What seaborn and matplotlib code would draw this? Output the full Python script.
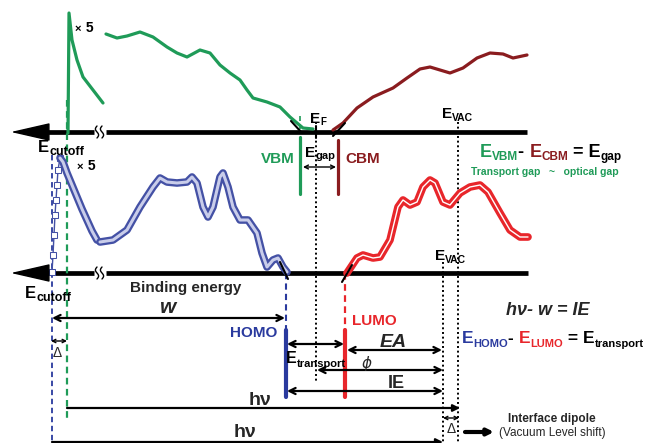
import numpy as np
import seaborn as sns
import matplotlib.pyplot as plt

# colours
GREEN = '#1f9b58'
DARKRED = '#8a1c1f'
BLUE = '#4451a5'
NAVY = '#2a3a9e'
RED = '#e8262b'

# upper spectrum (pixel coordinates of the schematic, y downwards)
green_spike_x = [68, 69, 72, 77, 83, 93, 103]
green_spike_y = [133, 13, 40, 60, 77, 90, 103]
green_x = [106, 117, 127, 140, 153, 167, 177, 187, 200, 210, 220, 230, 240, 247, 253, 267, 280, 290, 297, 303, 313]
green_y = [34, 38, 36, 32, 37, 47, 53, 57, 50, 53, 65, 73, 80, 90, 98, 102, 107, 117, 123, 128, 129]
darkred_x = [333, 343, 357, 373, 393, 407, 420, 430, 440, 450, 463, 477, 490, 503, 513, 527]
darkred_y = [130, 123, 108, 97, 88, 78, 69, 67, 70, 73, 68, 58, 53, 54, 58, 55]

# lower spectrum
blue_rise_x = [52, 53, 54, 55, 56, 57, 58, 60]
blue_rise_y = [272, 255, 235, 215, 200, 185, 170, 158]
blue_decay_x = [60, 63, 67, 72, 77, 82, 87, 92, 97]
blue_decay_y = [158, 162, 173, 185, 197, 209, 220, 231, 240]
blue_x = [100, 113, 127, 140, 153, 160, 167, 177, 187, 192, 197, 203, 208, 213, 220, 223, 228, 233,
          240, 248, 257, 262, 267, 273, 278, 283, 287]
blue_y = [242, 240, 230, 207, 187, 178, 182, 183, 182, 177, 183, 207, 217, 207, 177, 173, 187, 207,
          220, 220, 233, 253, 267, 260, 258, 267, 272]
red_x = [347, 357, 363, 373, 380, 390, 398, 403, 410, 417, 423, 430, 435, 443, 450, 460, 470, 480,
         488, 500, 510, 520, 528]
red_y = [273, 258, 255, 258, 257, 240, 207, 200, 205, 202, 187, 180, 183, 202, 205, 193, 187, 185,
         192, 213, 230, 237, 237]

sns.set_theme(style='white')
plt.rcParams['font.family'] = ['Liberation Sans', 'DejaVu Sans']

fig = plt.figure(figsize=(6.5, 4.43), dpi=100)
ax = fig.add_axes([0, 0, 1, 1])
ax.set_xlim(0, 650)
ax.set_ylim(443, 0)
ax.axis('off')
renderer = fig.canvas.get_renderer()


def chain(x, y, parts, weight='bold'):
    """Write coloured text pieces one after another on a common baseline."""
    for s, size, color, dy, style in parts:
        t = ax.text(x, y + dy, s, fontsize=size, color=color, fontweight=weight,
                    fontstyle=style, va='baseline', ha='left')
        x += t.get_window_extent(renderer=renderer).width


def energy_axis(y, x_end):
    ax.plot([30, 94], [y, y], color='black', lw=3.4, solid_capstyle='butt')
    ax.plot([106, x_end], [y, y], color='black', lw=3.4, solid_capstyle='butt')
    ax.annotate('', xy=(8, y), xytext=(36, y),
                arrowprops=dict(arrowstyle='-|>,head_length=1.4,head_width=0.32',
                                color='black', lw=1, mutation_scale=18))
    # axis-break squiggles
    t = np.linspace(-1, 1, 20)
    for xc in (97, 102):
        ax.plot(xc + 1.6 * np.sin(np.pi * t), y + 6 * t, color='black', lw=1.0)


def arrow(x0, x1, y, style='<->', lw=1.6, ms=11):
    ax.annotate('', xy=(x1, y), xytext=(x0, y),
                arrowprops=dict(arrowstyle=style, color='black', lw=lw, mutation_scale=ms,
                                shrinkA=0, shrinkB=0))


def vline(x, y0, y1, color, ls, lw):
    ax.plot([x, x], [y0, y1], color=color, ls=ls, lw=lw)


energy_axis(132, 527)
energy_axis(273, 528)

# reference lines
dotted = (0, (1, 1.4))
dashed = (0, (3, 2))
vline(52, 155, 443, NAVY, dashed, 1.3)
vline(67, 100, 420, GREEN, dashed, 1.6)
vline(316, 122, 383, 'black', dotted, 1.4)
vline(458, 122, 443, 'black', dotted, 1.4)
vline(443, 262, 443, 'black', dotted, 1.4)
vline(286, 273, 330, NAVY, dashed, 1.5)
vline(345, 273, 330, RED, dashed, 1.6)
vline(300, 116, 131, GREEN, dashed, 1.2)

# spectra
sns.lineplot(x=green_spike_x, y=green_spike_y, sort=False, estimator=None, color=GREEN, lw=2.3, ax=ax)
sns.lineplot(x=green_x, y=green_y, sort=False, estimator=None, color=GREEN, lw=2.3, ax=ax)
sns.lineplot(x=darkred_x, y=darkred_y, sort=False, estimator=None, color=DARKRED, lw=2.3, ax=ax)

sns.lineplot(x=blue_rise_x, y=blue_rise_y, sort=False, estimator=None, color=BLUE, lw=1.0,
             marker='s', markersize=4, markerfacecolor='white', markeredgecolor=BLUE, ax=ax)
for bx, by in [(blue_decay_x, blue_decay_y), (blue_x, blue_y)]:
    sns.lineplot(x=bx, y=by, sort=False, estimator=None, color=BLUE, lw=5.5, ax=ax)
    sns.lineplot(x=bx, y=by, sort=False, estimator=None, color='#c9cdea', lw=2.2, ax=ax)
sns.lineplot(x=red_x, y=red_y, sort=False, estimator=None, color=RED, lw=5.5, ax=ax)
sns.lineplot(x=red_x, y=red_y, sort=False, estimator=None, color='white', lw=1.0, ax=ax)

# onset extrapolation marks
for (xa, ya), (xb, yb) in [((291, 121), (302, 133)), ((333, 136), (345, 123)),
                           ((280, 262), (288, 279)), ((342, 282), (352, 265))]:
    ax.plot([xa, xb], [ya, yb], color='black', lw=1.5)
ax.plot([316, 316], [126, 138], color='black', lw=1.5)

# band edge markers
vline(300, 137, 194, GREEN, '-', 2.3)
vline(338, 140, 194, DARKRED, '-', 2.3)
vline(286, 330, 397, NAVY, '-', 3.0)
vline(345, 330, 397, RED, '-', 3.0)

# energy arrows
arrow(303, 336, 167, lw=1.0, ms=7)
arrow(52, 285, 318)
arrow(51, 67, 341, lw=1.0, ms=6)
arrow(287, 344, 344)
arrow(347, 442, 350)
arrow(317, 443, 370)
arrow(287, 443, 391)
arrow(67, 460, 408, style='-|>', lw=1.6, ms=10)
arrow(443, 459, 418, lw=1.0, ms=6)
arrow(52, 443, 442, style='-|>', lw=1.6, ms=10)
arrow(465, 494, 432, style='-|>', lw=3, ms=9)

# labels
chain(75, 32, [('\u00d7', 8, 'black', 0, 'normal'), (' 5', 10, 'black', 0, 'normal')])
chain(77, 170, [('\u00d7', 8, 'black', 0, 'normal'), (' 5', 10, 'black', 0, 'normal')])
chain(38, 152, [('E', 12, 'black', 0, 'normal'), ('cutoff', 9, 'black', 3, 'normal')])
chain(25, 298, [('E', 12, 'black', 0, 'normal'), ('cutoff', 9, 'black', 3, 'normal')])
ax.text(186, 292, 'Binding energy', fontsize=11, fontweight='bold', ha='center', va='baseline')
chain(310, 123, [('E', 11, 'black', 0, 'normal'), ('F', 7, 'black', 2, 'normal')])
chain(442, 118, [('E', 11, 'black', 0, 'normal'), ('VAC', 7.5, 'black', 3, 'normal')])
chain(435, 260, [('E', 11, 'black', 0, 'normal'), ('VAC', 7.5, 'black', 3, 'normal')])
ax.text(295, 163, 'VBM', fontsize=11, fontweight='bold', color=GREEN, ha='right', va='baseline')
ax.text(345, 163, 'CBM', fontsize=11, fontweight='bold', color=DARKRED, ha='left', va='baseline')
chain(305, 157, [('E', 11, 'black', 0, 'normal'), ('gap', 8, 'black', 2, 'normal')])

chain(480, 157, [('E', 13, GREEN, 0, 'normal'), ('VBM', 8.5, GREEN, 3, 'normal'),
                 ('- ', 13, 'black', 0, 'normal'), ('E', 13, DARKRED, 0, 'normal'),
                 ('CBM', 8.5, DARKRED, 3, 'normal'), (' = E', 13, 'black', 0, 'normal'),
                 ('gap', 8.5, 'black', 3, 'normal')])
ax.text(545, 175, 'Transport gap   ~   optical gap', fontsize=7.5, fontweight='bold', color=GREEN,
        ha='center', va='baseline')

ax.text(168, 313, 'w', fontsize=15, fontweight='bold', fontstyle='italic', ha='center', va='baseline')
ax.text(57, 357, '\u0394', fontsize=10, ha='center', va='baseline')
ax.text(451, 433, '\u0394', fontsize=10, ha='center', va='baseline')
ax.text(277, 337, 'HOMO', fontsize=11, fontweight='bold', color=NAVY, ha='right', va='baseline')
ax.text(352, 325, 'LUMO', fontsize=11, fontweight='bold', color=RED, ha='left', va='baseline')
chain(286, 363, [('E', 11.5, 'black', 0, 'normal'), ('transport', 8, 'black', 4, 'normal')])
ax.text(393, 347, 'EA', fontsize=14, fontweight='bold', fontstyle='italic', ha='center', va='baseline')
ax.text(367, 368, '\u03d5', fontsize=11, fontstyle='italic', ha='center', va='baseline',
        family='DejaVu Sans')
ax.text(396, 388, 'IE', fontsize=13, fontweight='bold', ha='center', va='baseline')
ax.text(260, 405, 'h\u03bd', fontsize=14, fontweight='bold', ha='center', va='baseline')
ax.text(245, 437, 'h\u03bd', fontsize=14, fontweight='bold', ha='center', va='baseline')

ax.text(548, 315, 'h\u03bd- w = IE', fontsize=13, fontweight='bold', fontstyle='italic',
        ha='center', va='baseline')
chain(462, 343, [('E', 12.5, NAVY, 0, 'normal'), ('HOMO', 8, NAVY, 4, 'normal'),
                 ('- ', 12.5, 'black', 0, 'normal'), ('E', 12.5, RED, 0, 'normal'),
                 ('LUMO', 8, RED, 4, 'normal'), (' = E', 12.5, 'black', 0, 'normal'),
                 ('transport', 8, 'black', 4, 'normal')])
ax.text(552, 422, 'Interface dipole', fontsize=8.5, fontweight='bold', ha='center', va='baseline')
ax.text(552, 436, '(Vacuum Level shift)', fontsize=8.5, ha='center', va='baseline')

fig.savefig('out.png', dpi=100)
